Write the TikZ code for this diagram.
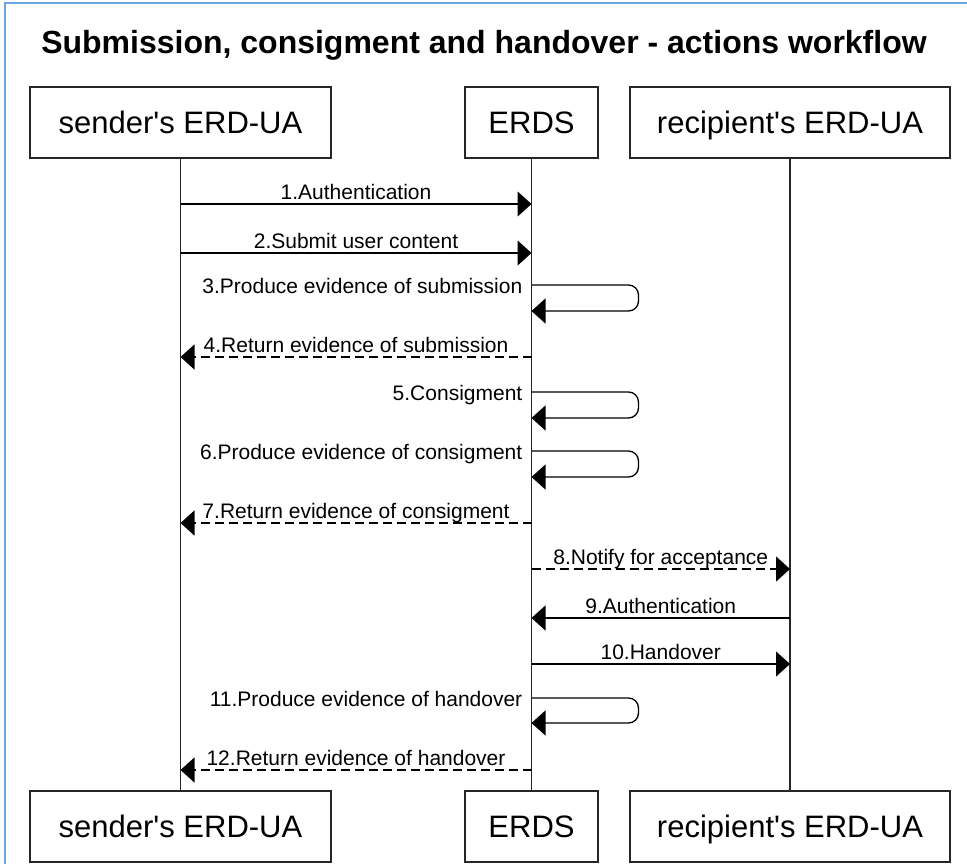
\documentclass[tikz,border=0pt]{standalone}
\usepackage{fontspec}
\setmainfont{Liberation Sans}
\usepackage{tikz}
\usetikzlibrary{arrows.meta}

\definecolor{frameblue}{RGB}{108,166,222}

\begin{document}
\begin{tikzpicture}[x=1pt,y=-1pt,
    actor/.style={draw=black!85, line width=1.4pt, minimum width=#1, minimum height=71pt, inner sep=0pt, text height=22pt, text depth=1pt, font=\fontsize{31}{36}\selectfont},
    life/.style={line width=1.2pt, black!85},
    msg/.style={line width=1.3pt, -{Triangle[length=14pt,width=25pt]}},
    ret/.style={msg, dash pattern=on 9pt off 5pt},
    lbl/.style={font=\fontsize{21}{25}\selectfont, inner sep=0pt, anchor=base, yshift=5pt},
    selflbl/.style={font=\fontsize{21}{25}\selectfont, inner sep=0pt, anchor=base east, xshift=-9pt, yshift=-8pt}]
        \useasboundingbox (0,0) rectangle (967,863);
        \draw[frameblue, line width=2pt] (5,880)--(5,3)--(990,3);%cut by the page

        \node[font=\bfseries\fontsize{32}{38}\selectfont] (title) at (484,45) {Submission, consigment and handover - actions workflow};

        % actors, top and bottom
        \foreach \pos/\y in {T/122.5,B/826.5}{
          \node[actor=301pt] (snd\pos) at (180.5,\y) {sender\textquotesingle s ERD-UA};
          \node[actor=133pt] (erds\pos) at (531.5,\y) {ERDS};
          \node[actor=320pt] (rcp\pos) at (790,\y) {recipient\textquotesingle s ERD-UA};
        }
        \foreach \a in {snd,erds,rcp}{
          \draw[life] (\a T)--(\a B);
        }

        % points on the lifelines
        \foreach \n/\y in {1/204,2/253,3/285,3r/311,4/357,5/392,5r/418,6/451,6r/477,7/523,8/569,9/618,10/664,11/698,11r/723,12/770}{
          \coordinate (snd\n) at (sndT |- 0,\y);
          \coordinate (erds\n) at (erdsT |- 0,\y);
          \coordinate (rcp\n) at (rcpT |- 0,\y);
        }

        \draw[msg] (snd1)--node[lbl] (l1) {1.Authentication} (erds1);
        \draw[msg] (snd2)--node[lbl] (l2) {2.Submit user content} (erds2);
        \draw[ret] (erds4)--node[lbl] (l4) {4.Return evidence of submission} (snd4);
        \draw[ret] (erds7)--node[lbl] (l7) {7.Return evidence of consigment} (snd7);
        \draw[ret] (erds8)--node[lbl] (l8) {8.Notify for acceptance} (rcp8);
        \draw[msg] (rcp9)--node[lbl] (l9) {9.Authentication} (erds9);
        \draw[msg] (erds10)--node[lbl] (l10) {10.Handover} (rcp10);
        \draw[ret] (erds12)--node[lbl] (l12) {12.Return evidence of handover} (snd12);

        % self messages of the ERDS
        \foreach \n/\txt in {3/3.Produce evidence of submission,5/5.Consigment,6/6.Produce evidence of consigment,11/11.Produce evidence of handover}{
          \draw[msg, rounded corners=10pt] (erds\n)--++(107,0)|-(erds\n r);
          \node[selflbl] (l\n) at (erds\n) {\txt};
        }
\end{tikzpicture}
\end{document}
